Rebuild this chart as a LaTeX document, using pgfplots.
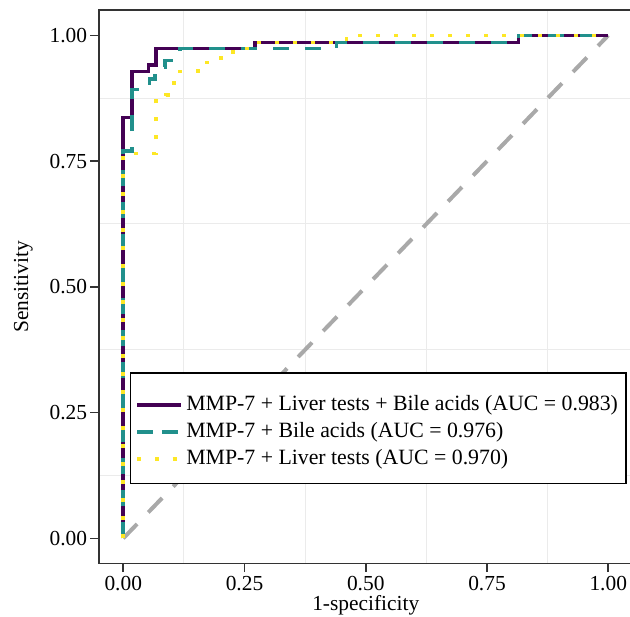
\documentclass[border=0pt]{standalone}
\usepackage{fontspec}
\setmainfont{Liberation Serif}
\usepackage{pgfplots}
\pgfplotsset{compat=1.18}

\definecolor{vpurple}{HTML}{440154}
\definecolor{vteal}{HTML}{21908C}
\definecolor{vyellow}{HTML}{FDE725}
\definecolor{refgray}{HTML}{A9A9A9}
\definecolor{gridgray}{HTML}{EBEBEB}
\definecolor{framegray}{HTML}{333333}

\begin{document}
\begin{tikzpicture}[font=\fontsize{10.7pt}{12pt}\selectfont]
\begin{axis}[
    scale only axis,
    width=266.75pt, height=276.65pt,
    xmin=-0.05, xmax=1.05, ymin=-0.05, ymax=1.05,
    xtick={0,0.25,0.5,0.75,1},
    ytick={0,0.25,0.5,0.75,1},
    minor xtick={0.125,0.375,0.625,0.875},
    minor ytick={0.125,0.375,0.625,0.875},
    xminorgrids, yminorgrids,
    minor tick length=0pt,
    minor grid style={gridgray, line width=0.5pt},
    tick pos=left, tick align=outside,
    major tick length=4.25pt,
    axis line style={framegray, line width=0.8pt},
    every tick/.style={framegray, line width=0.8pt},
    /pgf/number format/assume math mode=true,
    /pgf/number format/fixed,
    /pgf/number format/fixed zerofill,
    /pgf/number format/precision=2,
    yticklabel style={inner sep=1.5pt},
    xticklabel style={inner sep=2pt},
    xlabel={1-specificity},
    ylabel={Sensitivity},
    xlabel style={at={(axis description cs:0.5,-0.0858)}, anchor=base},
    ylabel style={at={(axis description cs:-0.1417,0.5)}, anchor=center},
    legend image code/.code={\draw[#1] (0pt,0pt) -- (22pt,0pt);},
    legend cell align=left,
    legend style={
      at={(axis description cs:0.058,0.346)}, anchor=north west,
      draw=black, line width=0.75pt,
      inner xsep=2.5pt, inner ysep=5.5pt,
      row sep=0pt,
      nodes={inner sep=1.5pt, text height=8pt, text depth=2.5pt},
      font=\fontsize{10.9pt}{12pt}\selectfont,
    },
  ]

  % chance line
  \addplot[refgray, line width=2pt, dash pattern=on 10pt off 8pt, forget plot]
    coordinates {(0,0) (1,1)};

  % MMP-7 + Liver tests + Bile acids
  \addplot[vpurple, line width=1.8pt, forget plot] coordinates {
    (0,0) (0,0.837) (0.018,0.837) (0.018,0.928) (0.052,0.928)
    (0.052,0.941) (0.068,0.941) (0.068,0.974) (0.272,0.974)
    (0.272,0.986) (0.815,0.986) (0.815,1) (1,1)
  };

  % MMP-7 + Bile acids
  \addplot[vteal, line width=1.8pt, dash pattern=on 8pt off 8pt, forget plot] coordinates {
    (0,0) (0,0.77) (0.018,0.77) (0.018,0.892) (0.054,0.892)
    (0.054,0.913) (0.066,0.913) (0.066,0.937) (0.086,0.937)
    (0.086,0.95) (0.117,0.95) (0.117,0.974) (0.44,0.974)
    (0.44,0.986) (0.815,0.986) (0.815,1) (1,1)
  };

  % MMP-7 + Liver tests
  \addplot[vyellow, line width=1.8pt, dash pattern=on 2pt off 7pt, forget plot] coordinates {
    (0,0) (0,0.765) (0.068,0.765) (0.068,0.87) (0.088,0.87)
    (0.088,0.882) (0.104,0.882) (0.104,0.905) (0.117,0.905)
    (0.117,0.928) (0.154,0.928) (0.154,0.946) (0.19,0.946)
    (0.19,0.955) (0.215,0.955) (0.215,0.967) (0.245,0.967)
    (0.245,0.974) (0.276,0.974) (0.276,0.986) (0.46,0.986)
    (0.46,1) (1,1)
  };

  \addlegendimage{empty legend}
  \addlegendentry[text height=3.75pt, text depth=0pt, inner sep=0pt]{}
  \addlegendimage{vpurple, line width=1.8pt}
  \addlegendentry{MMP-7 + Liver tests + Bile acids (AUC = 0.983)}
  \addlegendimage{vteal, line width=1.8pt, dash pattern=on 8pt off 4.25pt}
  \addlegendentry{MMP-7 + Bile acids (AUC = 0.976)}
  \addlegendimage{vyellow, line width=1.8pt, dash pattern=on 2pt off 6.8pt}
  \addlegendentry{MMP-7 + Liver tests (AUC = 0.970)}
\end{axis}
\pgfresetboundingbox
\path[use as bounding box] ([shift={(-49.5pt,-26.25pt)}]current axis.south west) rectangle ++(315pt,308pt);
\end{tikzpicture}
\end{document}
